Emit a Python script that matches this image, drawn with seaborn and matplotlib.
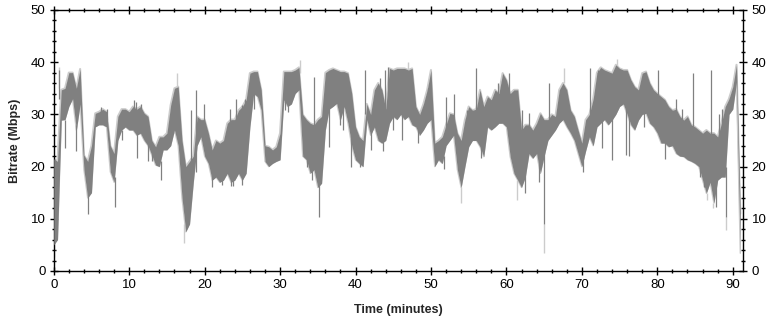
import numpy as np
import pandas as pd
import matplotlib
matplotlib.use("Agg")
import matplotlib.pyplot as plt
import seaborn as sns
from matplotlib.ticker import MultipleLocator

# ---- data: bitrate band (Mbps), upper / lower envelope in 0.5-minute bins ----
minutes = np.arange(0, 91.01, 0.5)

upper = [
    21.5, 21, 34.7, 35, 38, 38, 35, 38.7, 22.2, 21,
    24, 30.2, 30.5, 31, 30.5, 24, 22.5, 29.6, 31, 31,
    30.5, 31.5, 31, 31.5, 30.2, 29.6, 25, 23.8, 25.7, 25.7,
    26.4, 31.8, 35, 35.3, 25, 20, 21, 22, 29.6, 29,
    29, 26.4, 23.2, 25, 24.5, 25, 28.3, 29, 29, 30.8,
    31.5, 32.8, 37.9, 38.2, 38.2, 34.7, 24, 23.8, 23.2, 23.8,
    26.4, 38.2, 38.2, 38.2, 38.5, 39, 30, 29, 28.3, 28,
    29, 29.6, 38, 38.5, 38.8, 38.5, 38.2, 38.2, 37.9, 34,
    27.6, 25.7, 25, 32, 30, 34.7, 36, 34.7, 31, 38.8,
    38.5, 38.8, 38.8, 38.8, 38.5, 38.8, 31.5, 30, 32, 34.7,
    38.5, 24.5, 25, 25.7, 28, 30.2, 30, 26.4, 25, 29,
    31.5, 30.8, 31, 34.7, 31.5, 33.4, 32.8, 34.7, 34, 37.9,
    36.6, 34, 34.7, 34.7, 27, 28, 28, 27, 28.3, 30.2,
    29, 29, 30, 29.6, 34.7, 36, 34.7, 30.8, 29.6, 27,
    24.5, 29, 30, 33, 38, 39, 38.5, 38.2, 37.9, 39.5,
    38.8, 38.5, 38.5, 36.6, 35.3, 34.7, 37.9, 38.2, 36, 34.7,
    34, 33.4, 32.8, 31.5, 30.8, 31, 29.6, 28.9, 29.6, 28,
    27.6, 27, 26.4, 27, 26.4, 26.4, 25.7, 28.3, 31.5, 33,
    35.3, 39.5, 11,
]

lower = [
    5, 6, 28.9, 29, 31.5, 33, 27, 32, 19.4, 14,
    15, 27.6, 28, 28, 27.6, 19, 17, 25, 27, 27.6,
    27, 27, 26, 26.4, 25, 24, 22.2, 20.3, 20, 23.2,
    23.2, 24, 27, 24, 14, 7.5, 9, 17, 24, 25.7,
    22, 20.6, 17.4, 18, 17, 17.4, 18.7, 17, 17.4, 18.7,
    17.4, 18.7, 27.6, 34, 33.4, 30.8, 21, 20, 20.6, 21,
    21.3, 32.8, 31.5, 32, 34, 34.7, 22, 21.3, 18.7, 19.4,
    16, 16.8, 27, 31, 31.5, 32.1, 29, 31.5, 28.3, 24,
    21.3, 20.6, 20, 29, 26, 27.6, 25, 24.5, 25, 28.3,
    29.6, 29, 30, 29, 29.6, 28, 27.6, 26, 27, 28.3,
    29, 20, 21.3, 20.6, 24, 25, 26, 19.4, 16, 20,
    23.8, 25, 25, 23.8, 21.9, 27.6, 27, 27.6, 28.3, 28.3,
    27.6, 21.9, 18.7, 17.4, 16, 18, 22.5, 21.6, 22.5, 18.7,
    22, 25, 26, 27, 28.3, 29, 27.6, 26.4, 25, 22.5,
    20, 23, 25.7, 24, 27.6, 28.3, 29, 28, 28.9, 30,
    31.5, 32, 30, 28, 27, 28.9, 30, 30.2, 28.3, 27.6,
    26.4, 24.5, 24.5, 23.8, 24, 22.5, 22, 21.9, 21.3, 21,
    20.6, 20, 17.4, 14.9, 17, 13, 17.4, 18, 18, 30,
    31, 36.2, 3.4,
]

# narrow single-sample spikes (minute, start inside band, tip)
spike_t = [0.75, 1.45, 3.0, 4.55, 8.1, 9.0, 10.6, 11.1, 12.5, 14.2,
           18.2, 18.85, 19.95, 23.5, 24.1, 34.45, 35.2, 36.55, 39.4, 41.3,
           42.0, 43.9, 52.0, 53.0, 56.0, 62.0, 63.0, 65.0, 65.6, 71.1,
           74.0, 76.3, 80.1, 84.7, 87.1, 89.1,
           6.2, 7.1, 10.9, 11.6, 13.0, 21.0, 22.3, 23.3, 23.8, 24.9,
           25.0, 25.4, 26.6, 30.7, 31.1, 33.6, 34.2, 37.9, 38.3, 40.6,
           43.2, 43.6, 44.3, 45.0, 46.2, 48.3, 49.6, 51.7, 54.8, 56.6,
           58.9, 60.3, 62.5, 64.3, 70.2, 72.1, 72.7, 75.9, 78.2, 81.0,
           82.5, 83.3, 85.6, 86.2, 87.8, 88.2, 88.6]
spike_base = [33, 29, 28, 16, 18, 27, 30, 27, 25, 21,
              20, 19, 28, 18, 28, 27, 18, 32, 26, 30,
              27, 30, 27, 29, 30, 26, 27, 23, 28, 29,
              30, 30, 33, 27, 25, 20,
              29, 29, 30, 30, 23, 19, 19, 26, 19, 28,
              19, 30, 35, 33, 33, 23, 20, 31, 31, 22,
              33, 27, 34, 31, 31, 28, 31, 22, 27, 24,
              32, 34, 20, 24, 22, 35, 30, 33, 31, 25,
              29, 28, 22, 20, 18, 24, 26]
spike_tip = [38.5, 23.5, 23, 11, 12.3, 25, 32.8, 21.6, 21, 17.4,
             30.8, 34.7, 32, 16.2, 33, 37.2, 10.4, 23.8, 20, 38.5,
             23.2, 38.5, 33.4, 34, 38.8, 30.8, 30.2, 9, 36, 38.8,
             21.3, 22, 38.5, 37.9, 38.5, 10.4,
             31.5, 31, 32.4, 32, 21, 16, 16.5, 31, 16.2, 31.8,
             16.5, 33, 31, 30.8, 30.5, 20, 17.5, 28, 27, 20,
             37, 23, 39, 27, 25, 24.5, 35, 19.5, 30.8, 21.6,
             36, 38, 15, 17, 19, 38.5, 23.5, 22.2, 27.6, 21.5,
             33, 31, 18, 16, 12.3, 30, 31]

# light-gray peak extremes (minute, from, to)
peak_t = [0.1, 0.7, 16.3, 17.3, 32.6, 54.0, 61.4, 65.0, 67.6, 74.6, 86.6, 87.4, 89.1, 47.0]
peak_from = [5, 35, 35, 9, 38, 16, 17.4, 9, 36, 39, 15, 13, 10.4, 38.5]
peak_to = [2.7, 39, 37.9, 5.3, 40.4, 13, 13.6, 3.4, 38.8, 40.6, 13.6, 12, 7.9, 40]

x_ticks = [0, 10, 20, 30, 40, 50, 60, 70, 80, 90]
y_ticks = [0, 10, 20, 30, 40, 50]

df = pd.DataFrame({"Time (minutes)": minutes, "upper": upper, "lower": lower})

sns.set_style("ticks")
plt.rcParams["font.family"] = ["Liberation Sans", "DejaVu Sans"]

fig = plt.figure(figsize=(7.73, 3.22), dpi=100)
ax = fig.add_axes([0.0695, 0.1584, 0.8921, 0.8106])

DARK = "#808080"
LIGHT = "#cccccc"

ax.vlines(peak_t, peak_from, peak_to, color=LIGHT, lw=1.0, zorder=1)
# faint light fringe along the envelopes
sns.lineplot(data=df, x="Time (minutes)", y="upper", color=LIGHT, lw=1.5,
             sort=False, estimator=None, ax=ax, zorder=2)
sns.lineplot(data=df, x="Time (minutes)", y="lower", color=LIGHT, lw=1.0,
             sort=False, estimator=None, ax=ax, zorder=2)
# dark band
ax.fill_between(df["Time (minutes)"], df["lower"], df["upper"],
                color=DARK, lw=0, zorder=3)
ax.vlines(spike_t, spike_base, spike_tip, color=DARK, lw=0.9, zorder=3)

ax.set_xlim(0, 91.4)
ax.set_ylim(0, 50)
ax.set_xticks(x_ticks)
ax.set_yticks(y_ticks)
ax.xaxis.set_minor_locator(MultipleLocator(2))
ax.yaxis.set_minor_locator(MultipleLocator(2))
ax.tick_params(which="both", direction="inout", top=True, right=True,
               labelright=True, labelsize=9.5, color="black",
               labelcolor="black", width=1)
ax.tick_params(which="major", length=6, pad=3)
ax.tick_params(which="minor", length=3.5)
for s in ax.spines.values():
    s.set_visible(True)
    s.set_color("black")
    s.set_linewidth(1)

ax.set_xlabel("Time (minutes)", fontsize=9, fontweight="bold", labelpad=9)
ax.set_ylabel("Bitrate (Mbps)", fontsize=9, fontweight="bold", labelpad=7)

fig.savefig("out.png", dpi=100)
